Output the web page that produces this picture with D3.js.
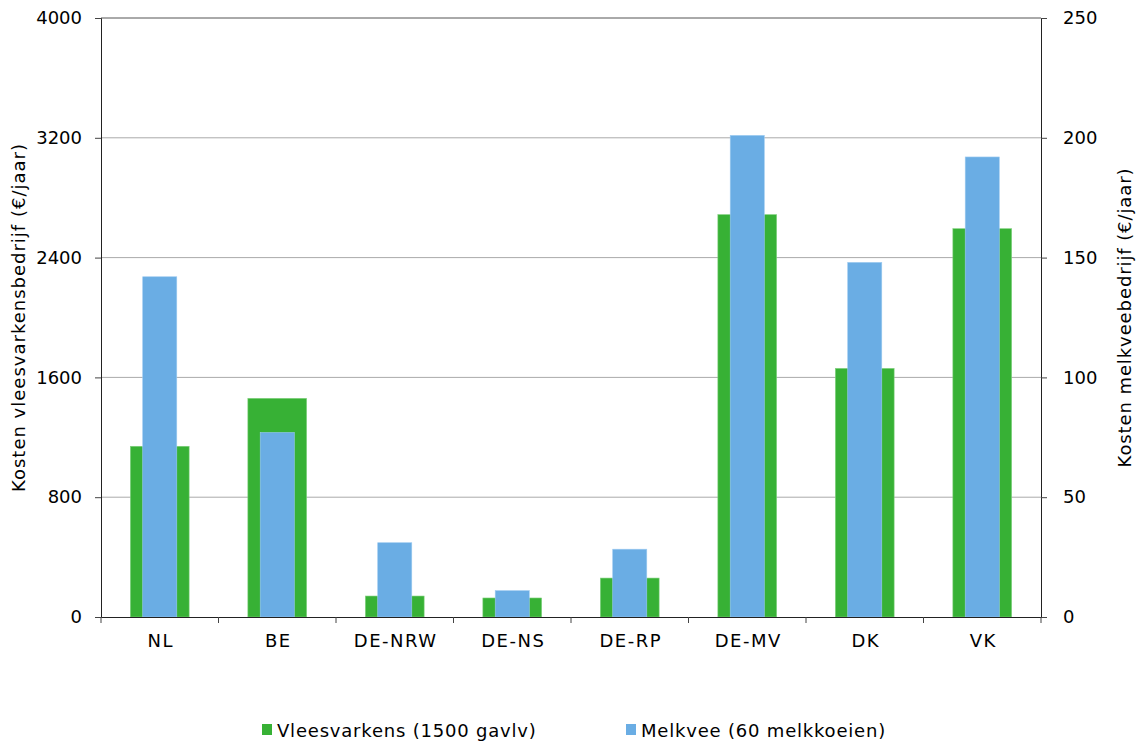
<!DOCTYPE html>
<html><head><meta charset="utf-8">
<script src="https://cdn.jsdelivr.net/npm/d3@7"></script>
<style>body{margin:0;background:#fff}text{font-family:"DejaVu Sans",Verdana,sans-serif;fill:#000}</style>
</head><body><svg id="c" width="1137" height="743"></svg>
<script>
const categories = ["NL","BE","DE-NRW","DE-NS","DE-RP","DE-MV","DK","VK"];
const vleesvarkens = [1140,1460,140,127,260,2687,1660,2593];
const melkvee = [142,77,31,11,28.3,201,148,192];
const leftTicks = [0,800,1600,2400,3200,4000];
const rightTicks = [0,50,100,150,200,250];
const seriesNames = ["Vleesvarkens (1500 gavlv)","Melkvee (60 melkkoeien)"];
const colors = ["#37b135","#6aade4"];

const svg = d3.select("#c");
const L=101,R=1041,T=18,B=617;
const x = d3.scaleBand().domain(categories).range([L,R]).padding(0);
const yL = d3.scaleLinear().domain([0,4000]).range([B,T]);
const yR = d3.scaleLinear().domain([0,250]).range([B,T]);

// gridlines
svg.append("g").selectAll("line").data(leftTicks.slice(1)).join("line")
  .attr("x1",L).attr("x2",R).attr("y1",d=>yL(d)).attr("y2",d=>yL(d))
  .attr("stroke",d=>d===4000?"#555":"#aaa").attr("stroke-width",1);

// bars
const gw = x.bandwidth()*0.5, bw = x.bandwidth()*0.29;
svg.append("g").selectAll("rect").data(categories).join("rect")
  .attr("x",d=>x(d)+x.bandwidth()/2-gw/2).attr("width",gw)
  .attr("y",(d,i)=>yL(vleesvarkens[i])).attr("height",(d,i)=>B-yL(vleesvarkens[i]))
  .attr("fill",colors[0]).attr("stroke","#7fd07d").attr("stroke-width",0.6);
svg.append("g").selectAll("rect").data(categories).join("rect")
  .attr("x",d=>x(d)+x.bandwidth()/2-bw/2).attr("width",bw)
  .attr("y",(d,i)=>yR(melkvee[i])).attr("height",(d,i)=>B-yR(melkvee[i]))
  .attr("fill",colors[1]).attr("stroke","#9ccaf0").attr("stroke-width",0.6);

// axes
const gl = svg.append("g").attr("transform",`translate(${L},0)`)
  .call(d3.axisLeft(yL).tickValues(leftTicks).tickSize(6).tickPadding(13).tickFormat(d3.format("d")));
const gr = svg.append("g").attr("transform",`translate(${R},0)`)
  .call(d3.axisRight(yR).tickValues(rightTicks).tickSize(6).tickPadding(16).tickFormat(d3.format("d")));
const gb = svg.append("g").attr("transform",`translate(0,${B})`)
  .call(d3.axisBottom(x).tickSize(0).tickPadding(17));
// bottom boundary ticks
svg.append("g").selectAll("line").data(d3.range(categories.length+1)).join("line")
  .attr("x1",i=>L+i*x.step()).attr("x2",i=>L+i*x.step()).attr("y1",B).attr("y2",B+6)
  .attr("stroke","#444");
[gl,gr,gb].forEach(g=>{
  g.attr("font-size",18).attr("font-family","DejaVu Sans");
  g.selectAll(".domain").attr("stroke","#222");
  g.selectAll(".tick line").attr("stroke","#444");
  g.selectAll("text").attr("font-size",18);
});
gb.selectAll("text").attr("letter-spacing",1.5).attr("dx",1);

// axis titles
svg.append("text").attr("transform",`translate(25,${(T+B)/2}) rotate(-90)`)
  .attr("text-anchor","middle").attr("font-size",18).attr("letter-spacing",1)
  .text("Kosten vleesvarkensbedrijf (€/jaar)");
svg.append("text").attr("transform",`translate(1131,${(T+B)/2}) rotate(-90)`)
  .attr("text-anchor","middle").attr("font-size",18).attr("letter-spacing",0.9)
  .text("Kosten melkveebedrijf (€/jaar)");

// legend
const lx=[262,626];
seriesNames.forEach((n,i)=>{
  svg.append("rect").attr("x",lx[i]).attr("y",724).attr("width",10).attr("height",11).attr("fill",colors[i]);
  svg.append("text").attr("x",lx[i]+15).attr("y",737).attr("font-size",18).attr("letter-spacing",0.8).text(n);
});
</script></body></html>
